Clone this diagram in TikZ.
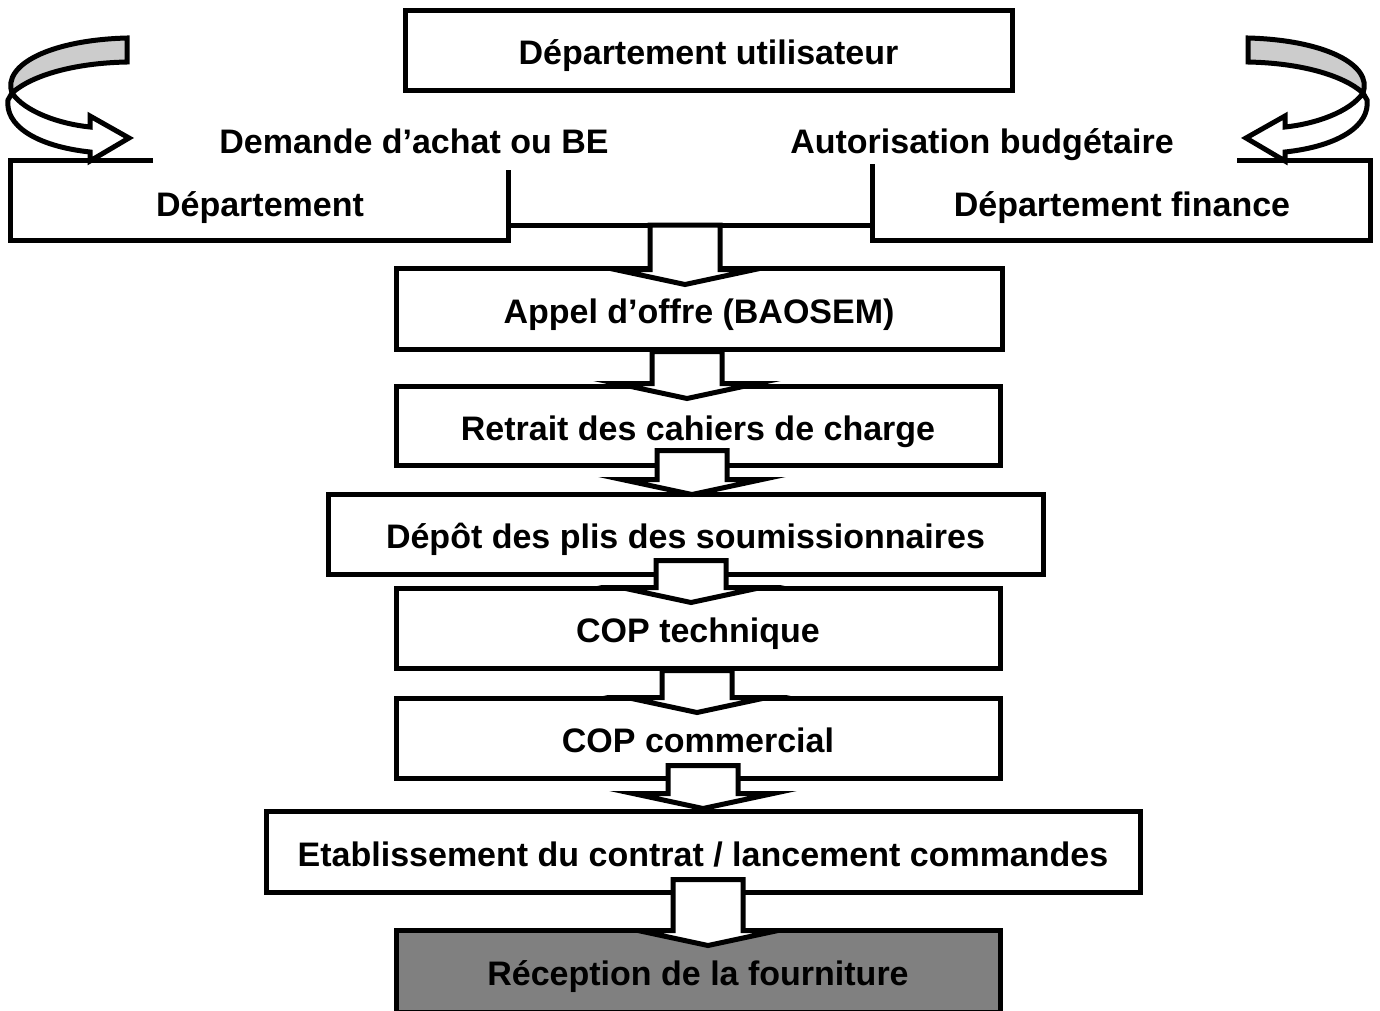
\documentclass[tikz,border=0pt]{standalone}
\usepackage{fontspec}
\setmainfont{Liberation Sans}
\usetikzlibrary{calc}

\tikzset{
  box/.style={draw, line width=5pt, fill=white, inner sep=0pt, minimum height=80pt,
    text height=36pt, text depth=7pt, font=\fontsize{34}{40}\selectfont\bfseries},
  txt/.style={inner sep=0pt, text height=36pt, text depth=7pt,
    font=\fontsize{34}{40}\selectfont\bfseries},
  flowarr/.style={draw, line width=5pt, fill=white},
  turnback/.style={draw, line width=5pt, fill=gray!40},
  turnfront/.style={draw, line width=5pt, fill=white}
}

% block arrow: from anchor, to anchor, x of axis, shaft start above #1, tip below #2
\newcommand{\flowarrow}[5]{%
  \draw[flowarr] let \p1=(#1), \p2=(#2) in
    (#3pt-35pt,\y1+#4pt) -- (#3pt+35pt,\y1+#4pt) -- (#3pt+35pt,\y2-#5pt+15pt)
    -- (#3pt+70pt,\y2-#5pt+15pt) -- (#3pt,\y2-#5pt) -- (#3pt-70pt,\y2-#5pt+15pt)
    -- (#3pt-35pt,\y2-#5pt+15pt) -- cycle;}

% curved arrow, left-hand version
\newcommand{\turnarrow}{%
  \draw[turnback] (127,38) .. controls (50,40) and (2,65) .. (12,93)
    .. controls (32,75) and (75,63) .. (127,62) -- cycle;
  \draw[turnfront] (12,93) .. controls (25,112) and (60,124) .. (90,127)
    -- (90,116) -- (129,138) -- (90,161) -- (90,152)
    .. controls (35,146) and (5,125) .. (8,100) -- cycle;}

\begin{document}
\begin{tikzpicture}[x=1pt,y=-1pt]
    \useasboundingbox (0,0) rectangle (1380,1010);
    \fill[white] (0,0) rectangle (1380,1010);

    % top part
    \node[box, minimum width=607pt] (util) at (708.5,50) {Département utilisateur};
    \node[txt] (demande) at (414,139) {Demande d’achat ou BE};
    \node[txt] (autor) at (982,139) {Autorisation budgétaire};
    \draw[line width=5pt] (153,160) -- (10,160) -- (10,240) -- (508,240) -- (508,170);
    \draw[line width=5pt] (508,225) coordinate (joinL) -- (872,225) coordinate (joinR);
    \draw[line width=5pt] (872,164) -- (872,240) -- (1370,240) -- (1370,160) -- (1237,160);
    \coordinate (join) at ($(joinL)!0.5!(joinR)$);
    \node[txt] (dept) at (260,202) {Département};
    \node[txt] (finance) at (1122,202) {Département finance};
    \turnarrow
    \begin{scope}[shift={(1375,0)}, xscale=-1]
        \turnarrow
    \end{scope}

    % steps
    \node[box, minimum width=606pt, minimum height=81pt] (appel) at (699,308.5) {Appel d’offre (BAOSEM)};
    \node[box, minimum width=604pt, minimum height=79pt] (retrait) at (698,425.5) {Retrait des cahiers de charge};
    \node[box, minimum width=715pt] (depot) at (685.5,534) {Dépôt des plis des soumissionnaires};
    \node[box, minimum width=604pt] (coptech) at (698,628) {COP technique};
    \node[box, minimum width=604pt] (copcom) at (698,738) {COP commercial};
    \node[box, minimum width=874pt, minimum height=81pt] (etab) at (703,851.5) {Etablissement du contrat / lancement commandes};
    \node[box, minimum width=604pt, minimum height=82pt, fill=black!50] (recep) at (698,971) {Réception de la fourniture};

    % arrows
    \flowarrow{join}{appel.north}{685}{0}{19}
    \flowarrow{appel.south}{retrait.north}{687}{0}{15}
    \flowarrow{retrait.south}{depot.north}{692}{17}{3}
    \flowarrow{depot.south}{coptech.north}{691}{16}{17}
    \flowarrow{coptech.south}{copcom.north}{697}{0}{17}
    \flowarrow{copcom.south}{etab.north}{703}{15}{0}
    \flowarrow{etab.south}{recep.north}{708}{15}{18}
\end{tikzpicture}
\end{document}
